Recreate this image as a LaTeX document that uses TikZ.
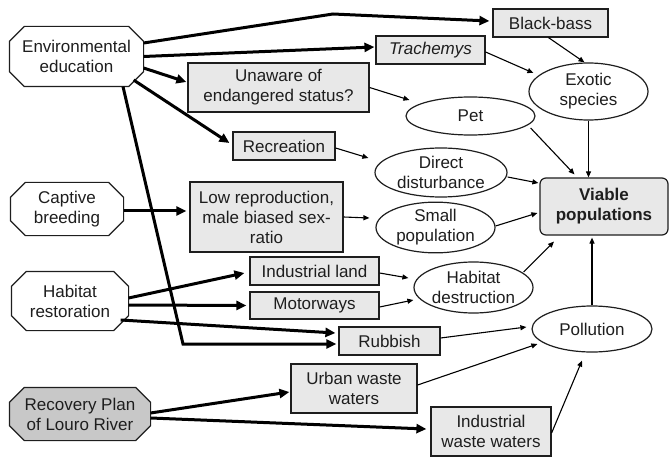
\documentclass[tikz,border=0pt]{standalone}
\usepackage{fontspec}
\setmainfont{Liberation Sans}
\usetikzlibrary{arrows.meta,shapes.geometric,backgrounds}

% octagon round a named node, drawn behind it
\newcommand{\octaround}[2][white]{%
  \filldraw[draw=inkgray,fill=#1,line width=1.2pt]
    ([xshift=15pt]#2.north west) -- ([xshift=-15pt]#2.north east)
    -- ([yshift=-15pt]#2.north east) -- ([yshift=15pt]#2.south east)
    -- ([xshift=-15pt]#2.south east) -- ([xshift=15pt]#2.south west)
    -- ([yshift=15pt]#2.south west) -- ([yshift=-15pt]#2.north west) -- cycle;}

\begin{document}
\begin{tikzpicture}[x=1pt,y=-1pt,line width=1.2pt]
  \definecolor{boxgray}{RGB}{232,232,232}
  \definecolor{plangray}{RGB}{200,200,200}
  \definecolor{inkgray}{RGB}{30,30,30}
  \tikzset{lab/.style={font=\fontsize{17}{20}\selectfont,align=center,inner sep=0pt,text=inkgray,draw=inkgray},
    cause/.style={lab,rectangle,fill=boxgray},
    effect/.style={lab,ellipse,fill=white},
    action/.style={lab,rectangle,draw=none},
    thickarr/.style={line width=3pt,-{Triangle[length=10pt,width=9pt]}},
    thinarr/.style={line width=1.1pt,-{Triangle[length=6pt,width=5pt]}}}
  \useasboundingbox (0,0) rectangle (669,457);
  % actions
  \node[action,minimum width=133,minimum height=59] (env) at (76.5,56.5) {Environmental\\education};
  \node[action,minimum width=112,minimum height=52] (captive) at (67,209) {Captive\\breeding};
  \node[action,minimum width=116,minimum height=58] (habitat) at (70,301) {Habitat\\restoration};
  \node[action,minimum width=140,minimum height=52] (recovery) at (80,414) {Recovery Plan\\of Louro River};
  \begin{scope}[on background layer]
    \octaround{env}
    \octaround{captive}
    \octaround{habitat}
    \octaround[plangray]{recovery}
  \end{scope}
  % causes
  \node[cause,minimum width=115,minimum height=28] (bass) at (550.5,23) {Black-bass};
  \node[cause,minimum width=109,minimum height=28] (trach) at (430.5,50) {\textit{Trachemys}};
  \node[cause,minimum width=181,minimum height=49] (unaware) at (278.5,87.5) {Unaware of\\endangered status?};
  \node[cause,minimum width=102,minimum height=28] (recreation) at (284,146) {Recreation};
  \node[cause,minimum width=153,minimum height=70] (lowrep) at (266.5,217) {Low reproduction,\\male biased sex-\\ratio};
  \node[cause,minimum width=129,minimum height=28] (indland) at (314.5,271) {Industrial land};
  \node[cause,minimum width=129,minimum height=27] (motorways) at (314.5,305.5) {Motorways};
  \node[cause,minimum width=101,minimum height=28] (rubbish) at (389.5,341) {Rubbish};
  \node[cause,minimum width=126,minimum height=49] (urban) at (354,388.5) {Urban waste\\waters};
  \node[cause,minimum width=120,minimum height=49] (indwaste) at (491,431.5) {Industrial\\waste waters};
  % effects
  \node[effect,minimum width=119,minimum height=57] (exotic) at (588.5,91.5) {Exotic\\species};
  \node[effect,minimum width=129,minimum height=38] (pet) at (470.5,116) {Pet};
  \node[effect,minimum width=132,minimum height=49] (direct) at (441,172.5) {Direct\\disturbance};
  \node[effect,minimum width=119,minimum height=49] (small) at (435.5,227.5) {Small\\population};
  \node[effect,minimum width=119,minimum height=51] (habdest) at (473.5,287.5) {Habitat\\destruction};
  \node[effect,minimum width=120,minimum height=46] (pollution) at (592,329) {Pollution};
  \node[cause,rounded corners=6pt,minimum width=128,minimum height=57,font=\fontsize{17}{20}\selectfont\bfseries] (viable) at (604,206.5) {Viable\\populations};
  \coordinate (kink) at (333,14);
  \coordinate (corner) at (183,344);
  % thick links
  \draw[thickarr] ([yshift=13.5pt]env.east) -- (kink) -- ([xshift=-3pt,yshift=2pt]bass.west);
  \draw[thickarr] (env.east) -- ([xshift=-1pt,yshift=3pt]trach.west);
  \draw[thickarr] ([yshift=-11.5pt]env.east) -- ([xshift=-1pt,yshift=5.5pt]unaware.west);
  \draw[thickarr] ([xshift=-10pt,yshift=-23.5pt]env.east) -- ([xshift=-3pt,yshift=3pt]recreation.west);
  \draw[thickarr] ([xshift=46.5pt]env.south) -- (corner) -- ([xshift=-2pt,yshift=-3pt]rubbish.west);
  \draw[thickarr] ([yshift=-2pt]captive.east) -- ([xshift=-3pt,yshift=6pt]lowrep.west);
  \draw[thickarr] ([yshift=3pt]habitat.east) -- ([xshift=-5pt,yshift=-2pt]indland.west);
  \draw[thickarr] ([yshift=-4pt]habitat.east) -- ([xshift=-3pt]motorways.west);
  \draw[thickarr] ([xshift=-8pt,yshift=-19pt]habitat.east) -- ([xshift=-3pt,yshift=8pt]rubbish.west);
  \draw[thickarr] ([yshift=1pt]recovery.east) -- ([xshift=-1pt,yshift=-3.5pt]urban.west);
  \draw[thickarr] ([yshift=-4pt]recovery.east) -- ([xshift=-4pt,yshift=2.5pt]indwaste.west);
  % thin links
  \draw[thinarr] ([xshift=-2pt]bass.south) -- ([xshift=-4pt]exotic.north);
  \draw[thinarr] ([yshift=-2pt]trach.east) -- ([xshift=5pt,yshift=18.5pt]exotic.west);
  \draw[thinarr] (unaware.east) -- ([xshift=4pt,yshift=16pt]pet.west);
  \draw[thinarr] ([yshift=-2pt]recreation.east) -- ([xshift=-6pt,yshift=14.5pt]direct.west);
  \draw[thinarr] ([xshift=-5pt,yshift=-12pt]pet.east) -- ([xshift=-29.5pt,yshift=3pt]viable.north);
  \draw[thinarr] (exotic.south) -- ([xshift=-15.5pt]viable.north);
  \draw[thinarr] ([yshift=-4.5pt]direct.east) -- ([xshift=-1pt,yshift=23.5pt]viable.west);
  \draw[thinarr] (lowrep.east) -- ([xshift=-6pt,yshift=9.5pt]small.west);
  \draw[thinarr] ([yshift=1.5pt]small.east) -- ([xshift=-2pt,yshift=-6.5pt]viable.west);
  \draw[thinarr] ([yshift=-2pt]indland.east) -- ([xshift=-5pt,yshift=9.5pt]habdest.west);
  \draw[thinarr] ([yshift=-1.5pt]motorways.east) -- ([yshift=-12.5pt]habdest.west);
  \draw[thinarr] ([xshift=-10pt,yshift=15.5pt]habdest.east) -- ([xshift=-50pt,yshift=-6pt]viable.south);
  \draw[thinarr] (pollution.north) -- ([xshift=-12pt,yshift=-2pt]viable.south);
  \draw[thinarr] ([yshift=3pt]rubbish.east) -- ([xshift=-5pt,yshift=2pt]pollution.west);
  \draw[thinarr] ([yshift=3.5pt]urban.east) -- ([xshift=6pt,yshift=-15pt]pollution.west);
  \draw[thinarr] ([yshift=-1.5pt]indwaste.east) -- ([xshift=-10pt,yshift=-8pt]pollution.south);
\end{tikzpicture}
\end{document}
